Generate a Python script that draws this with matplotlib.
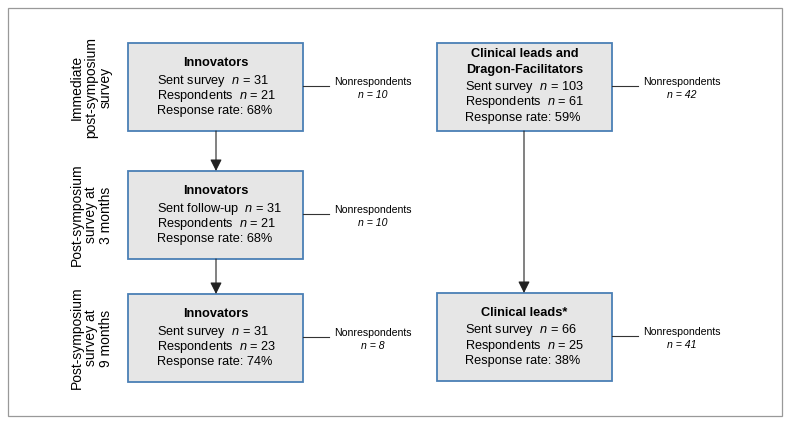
import matplotlib
matplotlib.use("Agg")
import matplotlib.pyplot as plt
from matplotlib.patches import Rectangle, FancyArrowPatch

plt.rcParams['font.family'] = ['Liberation Sans', 'DejaVu Sans']
plt.rcParams['mathtext.fontset'] = 'custom'
plt.rcParams['mathtext.it'] = 'Liberation Sans:italic'
plt.rcParams['mathtext.rm'] = 'Liberation Sans'

## Data ##
row_labels = ["Immediate\npost-symposium\nsurvey",
              "Post-symposium\nsurvey at\n3 months",
              "Post-symposium\nsurvey at\n9 months"]
left_titles = ["Innovators", "Innovators", "Innovators"]
left_sent_label = ["Sent survey", "Sent follow-up", "Sent survey"]
left_sent = [31, 31, 31]
left_resp = [21, 21, 23]
left_rate = [68, 68, 74]
left_nonresp = [10, 10, 8]

right_titles = ["Clinical leads and\nDragon-Facilitators", "Clinical leads*"]
right_sent = [103, 66]
right_resp = [61, 25]
right_rate = [59, 38]
right_nonresp = [42, 41]

## Layout (pixel coords) ##
fig = plt.figure(figsize=(7.91, 4.25), dpi=100)
ax = fig.add_axes([0, 0, 1, 1])
ax.set_xlim(0, 791)
ax.set_ylim(425, 0)
ax.axis("off")

edge = "#4a7fb5"
fill = "#e6e6e6"
fs = 9.2

ax.add_patch(Rectangle((8, 8), 774, 408, fill=False, ec="#999999", lw=0.9))

def draw_box(x0, y0, w, h, title, sent_lab, sent, resp, rate, nonresp, tx):
    ax.add_patch(Rectangle((x0, y0), w, h, fc=fill, ec=edge, lw=1.3))
    cx = x0 + w / 2
    tl = title.split("\n")
    y = y0 + (20 if len(tl) == 1 else 11)
    for t in tl:
        ax.text(cx, y, t, ha="center", va="center", fontsize=fs, fontweight="bold")
        y += 15.5
    y += 2
    lines = [sent_lab + r"  $n$ = " + str(sent),
             r"Respondents  $n$ = " + str(resp),
             "Response rate: %d%%" % rate]
    for l in lines:
        ax.text(tx, y, l, ha="left", va="center", fontsize=fs)
        y += 15.3
    # nonrespondent branch
    ym = y0 + h / 2 - 1
    ax.plot([x0 + w, x0 + w + 26], [ym, ym], color="#333333", lw=0.8)
    ax.text(x0 + w + 70, ym - 4, "Nonrespondents", ha="center", va="center", fontsize=7.6)
    ax.text(x0 + w + 70, ym + 9, "n = %d" % nonresp, ha="center", va="center",
            fontsize=7.6, style="italic")

left_y = [43, 171, 294]
for i in range(3):
    draw_box(128, left_y[i], 175, 88, left_titles[i], left_sent_label[i],
             left_sent[i], left_resp[i], left_rate[i], left_nonresp[i], 157)
    ax.text(91, left_y[i] + 44, row_labels[i], ha="center", va="center",
            rotation=90, fontsize=10, linespacing=1.05)

right_y = [43, 293]
for i in range(2):
    draw_box(437, right_y[i], 175, 88, right_titles[i], "Sent survey",
             right_sent[i], right_resp[i], right_rate[i], right_nonresp[i], 465)

def arrow(x, y1, y2):
    ax.add_patch(FancyArrowPatch((x, y1), (x, y2), arrowstyle="-|>,head_length=7,head_width=3.5",
                                 color="#222222", lw=0.8, shrinkA=0, shrinkB=0))

arrow(216, 131, 171)
arrow(216, 259, 294)
arrow(524, 131, 293)

fig.savefig("out.png", dpi=100)
